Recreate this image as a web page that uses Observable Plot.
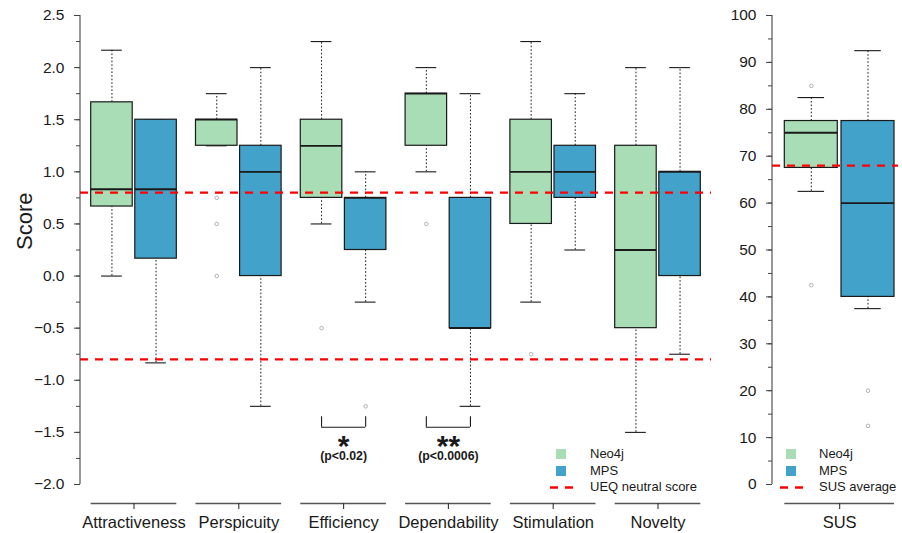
<!DOCTYPE html>
<html>
<head>
<meta charset="utf-8">
<script src="https://cdn.jsdelivr.net/npm/d3@7"></script>
<script src="https://cdn.jsdelivr.net/npm/@observablehq/plot@0.6"></script>
<style>
  html, body { margin: 0; padding: 0; background: #fff; }
  #chart { position: relative; width: 902px; height: 533px; overflow: hidden;
           font-family: "Liberation Sans", Arial, Helvetica, sans-serif; color: #1a1a1a; }
  #chart > svg { position: absolute; top: 0; overflow: visible; }
  .legend { position: absolute; font-size: 13px; line-height: 16.5px; }
  .legend .row { position: relative; height: 16.5px; white-space: nowrap; }
  .legend .sw { position: absolute; width: 10px; height: 10px; top: 3px; }
  .legend svg { position: absolute; top: 0; }
</style>
</head>
<body>
<div id="chart"></div>
<script>
// UEQ scales and the two tools compared
const ueqScales = ["Attractiveness", "Perspicuity", "Efficiency", "Dependability", "Stimulation", "Novelty"];
const tools = ["Neo4j", "MPS"];
const toolColors = ["#a8ddb5", "#43a2ca"];

// Box summaries per UEQ scale: [lower whisker, Q1, median, Q3, upper whisker]
const neo4jStats = [
  [0.0, 0.667, 0.833, 1.667, 2.167],
  [1.25, 1.25, 1.5, 1.5, 1.75],
  [0.5, 0.75, 1.25, 1.5, 2.25],
  [1.0, 1.25, 1.75, 1.75, 2.0],
  [-0.25, 0.5, 1.0, 1.5, 2.25],
  [-1.5, -0.5, 0.25, 1.25, 2.0]
];
const mpsStats = [
  [-0.833, 0.167, 0.833, 1.5, 1.5],
  [-1.25, 0.0, 1.0, 1.25, 2.0],
  [-0.25, 0.25, 0.75, 0.75, 1.0],
  [-1.25, -0.5, -0.5, 0.75, 1.75],
  [0.25, 0.75, 1.0, 1.25, 1.75],
  [-0.75, 0.0, 1.0, 1.0, 2.0]
];
const neo4jOutliers = [[], [0.75, 0.5, 0.0], [-0.5], [0.5], [-0.75], []];
const mpsOutliers = [[], [], [-1.25], [], [], []];
const ueqNeutral = [0.8, -0.8];
const ueqTicks = [-2.0, -1.5, -1.0, -0.5, 0.0, 0.5, 1.0, 1.5, 2.0, 2.5];

// SUS scores
const susGroups = ["SUS"];
const susNeo4jStats = [[62.5, 67.5, 75, 77.5, 82.5]];
const susMpsStats = [[37.5, 40, 60, 77.5, 92.5]];
const susNeo4jOutliers = [[85, 42.5]];
const susMpsOutliers = [[20, 12.5]];
const susAverage = [68];
const susTicks = [0, 10, 20, 30, 40, 50, 60, 70, 80, 90, 100];

// Significant differences between the tools
const significance = [
  {scale: "Efficiency", stars: "*", p: "(p<0.02)"},
  {scale: "Dependability", stars: "**", p: "(p<0.0006)"}
];

const FONT = "'Liberation Sans', Arial, Helvetica, sans-serif";
const INK = "#1a1a1a";
const AXIS = "#444";

function summaryRows(groups, statsByTool) {
  const rows = [];
  groups.forEach((g, i) => tools.forEach((t, k) => {
    const [lo, q1, med, q3, hi] = statsByTool[k][i];
    rows.push({group: g, tool: t, lo, q1, med, q3, hi});
  }));
  return rows;
}
function outlierRows(groups, outliersByTool) {
  const rows = [];
  groups.forEach((g, i) => tools.forEach((t, k) => {
    for (const value of outliersByTool[k][i]) rows.push({group: g, tool: t, value});
  }));
  return rows;
}

// Box-and-whisker marks; each tool occupies one half of the category band
function boxMarks(rows, outs, geo) {
  return tools.flatMap((t, k) => {
    const data = rows.filter(d => d.tool === t);
    const pts = outs.filter(d => d.tool === t);
    const dx = (k ? 1 : -1) * geo.offset;
    const boxIn = k ? {insetLeft: geo.inset} : {insetRight: geo.inset};
    const capIn = k
      ? {insetLeft: geo.inset + geo.cap, insetRight: geo.cap}
      : {insetLeft: geo.cap, insetRight: geo.inset + geo.cap};
    const whisker = {x: "group", dx, stroke: INK, strokeWidth: 1, strokeDasharray: "1.6,2"};
    return [
      Plot.ruleX(data, {...whisker, y1: "q3", y2: "hi"}),
      Plot.ruleX(data, {...whisker, y1: "lo", y2: "q1"}),
      Plot.tickY(data, {x: "group", y: "hi", ...capIn, stroke: INK, strokeWidth: 1.1}),
      Plot.tickY(data, {x: "group", y: "lo", ...capIn, stroke: INK, strokeWidth: 1.1}),
      Plot.barY(data, {x: "group", y1: "q1", y2: "q3", fill: "tool", stroke: INK, strokeWidth: 1.2, ...boxIn}),
      Plot.tickY(data, {x: "group", y: "med", ...boxIn, stroke: INK, strokeWidth: 1.8}),
      Plot.dot(pts, {x: "group", y: "value", dx, r: 1.8, stroke: "#aaa", strokeWidth: 0.9})
    ];
  });
}

// Group baseline under each category: a rule spanning the band with a centre tick
function groupAxisMarks(groups, yMin, fontSize) {
  return [
    Plot.tickY(groups, {x: d => d, y: () => yMin, dy: 19, stroke: "#555", strokeWidth: 1.3}),
    Plot.ruleX(groups, {x: d => d, y1: () => yMin, y2: () => yMin, insetTop: 19, insetBottom: -25, stroke: "#333", strokeWidth: 1.1}),
    Plot.text(groups, {x: d => d, y: () => yMin, dy: 38.4, fontSize, fill: INK})
  ];
}

function drawAxisLine(svg, plot, x) {
  const y = plot.scale("y");
  d3.select(svg).append("line")
    .attr("x1", x).attr("x2", x)
    .attr("y1", y.apply(y.domain[0])).attr("y2", y.apply(y.domain[1]))
    .attr("stroke", AXIS).attr("stroke-width", 1.1);
}

const chart = document.getElementById("chart");

// ---- UEQ panel ----
const ueqRows = summaryRows(ueqScales, [neo4jStats, mpsStats]);
const ueqOuts = outlierRows(ueqScales, [neo4jOutliers, mpsOutliers]);
const ueqDomain = [-2, 2.5];
const ueqGeo = {inset: 44.1, offset: 22.05, cap: 10.4};
const bracketY = [-1.35, -1.45];

const ueqPlot = Plot.plot({
  width: 715, height: 533,
  marginLeft: 80, marginRight: 4, marginTop: 15, marginBottom: 49,
  style: {fontFamily: FONT, color: INK, background: "transparent"},
  x: {type: "band", domain: ueqScales, paddingInner: 0.183, paddingOuter: 0.102, round: false, axis: null},
  y: {domain: ueqDomain, label: null, axis: null},
  color: {domain: tools, range: toolColors},
  marks: [
    Plot.axisY(d3.range(-2, 2.5001, 0.25), {tickSize: 4, tickFormat: () => "", stroke: AXIS, label: null}),
    Plot.axisY(ueqTicks, {tickSize: 6, tickPadding: 10, tickFormat: d3.format(".1f"), fontSize: 15.5, stroke: AXIS, label: null}),
    Plot.text(["Score"], {frameAnchor: "left", rotate: -90, dx: -56, fontSize: 22, fill: INK}),
    ...groupAxisMarks(ueqScales, ueqDomain[0], 16.5),
    ...boxMarks(ueqRows, ueqOuts, ueqGeo),
    Plot.ruleY(ueqNeutral, {stroke: "#ff0000", strokeWidth: 2.3, strokeDasharray: "8,7"}),
    // significance brackets between the two tools
    Plot.tickY(significance, {x: "scale", y: () => bracketY[1], insetLeft: 20.75, insetRight: 20.75, stroke: INK, strokeWidth: 1.1}),
    Plot.ruleX(significance, {x: "scale", y1: () => bracketY[0], y2: () => bracketY[1], dx: -ueqGeo.offset, stroke: INK, strokeWidth: 1.1}),
    Plot.ruleX(significance, {x: "scale", y1: () => bracketY[0], y2: () => bracketY[1], dx: ueqGeo.offset, stroke: INK, strokeWidth: 1.1}),
    Plot.text(significance, {x: "scale", y: () => -1.63, text: "stars", fontSize: 30, fontWeight: "bold", fill: INK}),
    Plot.text(significance, {x: "scale", y: () => -1.728, text: "p", fontSize: 12.3, fontWeight: "bold", fill: INK})
  ]
});
ueqPlot.style.left = "0px";
chart.appendChild(ueqPlot);
drawAxisLine(ueqPlot, ueqPlot, 80);

// ---- SUS panel ----
const susRows = summaryRows(susGroups, [susNeo4jStats, susMpsStats]);
const susOuts = outlierRows(susGroups, [susNeo4jOutliers, susMpsOutliers]);
const susGeo = {inset: 56.7, offset: 28.35, cap: 13.25};

const susPlot = Plot.plot({
  width: 187, height: 533,
  marginLeft: 57, marginRight: 4, marginTop: 15, marginBottom: 49,
  style: {fontFamily: FONT, color: INK, background: "transparent"},
  x: {type: "band", domain: susGroups, paddingInner: 0, paddingOuter: 0.0743, align: 0.755, round: false, axis: null},
  y: {domain: [0, 100], label: null, axis: null},
  color: {domain: tools, range: toolColors},
  marks: [
    Plot.axisY(d3.range(0, 100.1, 5), {tickSize: 4, tickFormat: () => "", stroke: AXIS, label: null}),
    Plot.axisY(susTicks, {tickSize: 6, tickPadding: 10, tickFormat: d => String(d), fontSize: 15.5, stroke: AXIS, label: null}),
    ...groupAxisMarks(susGroups, 0, 16.5),
    ...boxMarks(susRows, susOuts, susGeo),
    Plot.ruleY(susAverage, {stroke: "#ff0000", strokeWidth: 2.3, strokeDasharray: "8,7"})
  ]
});
susPlot.style.left = "715px";
chart.appendChild(susPlot);
drawAxisLine(susPlot, susPlot, 57);

// ---- Legends ----
function addLegend(left, textLeft, lineLabel) {
  const box = document.createElement("div");
  box.className = "legend";
  box.style.left = left + "px";
  box.style.top = "446px";
  const entries = [
    {label: tools[0], color: toolColors[0]},
    {label: tools[1], color: toolColors[1]},
    {label: lineLabel, line: true}
  ];
  for (const e of entries) {
    const row = document.createElement("div");
    row.className = "row";
    if (e.line) {
      row.innerHTML = `<svg width="24" height="16" style="left:-6px"><line x1="0" x2="23" y1="8.5" y2="8.5" stroke="#ff0000" stroke-width="2.4" stroke-dasharray="8,7"/></svg>`;
    } else {
      const sw = document.createElement("div");
      sw.className = "sw";
      sw.style.background = e.color;
      row.appendChild(sw);
    }
    const txt = document.createElement("span");
    txt.textContent = e.label;
    txt.style.position = "absolute";
    txt.style.left = (textLeft - left) + "px";
    row.appendChild(txt);
    box.appendChild(row);
  }
  chart.appendChild(box);
}
addLegend(556, 590, "UEQ neutral score");
addLegend(786, 819, "SUS average");
</script>
</body>
</html>
